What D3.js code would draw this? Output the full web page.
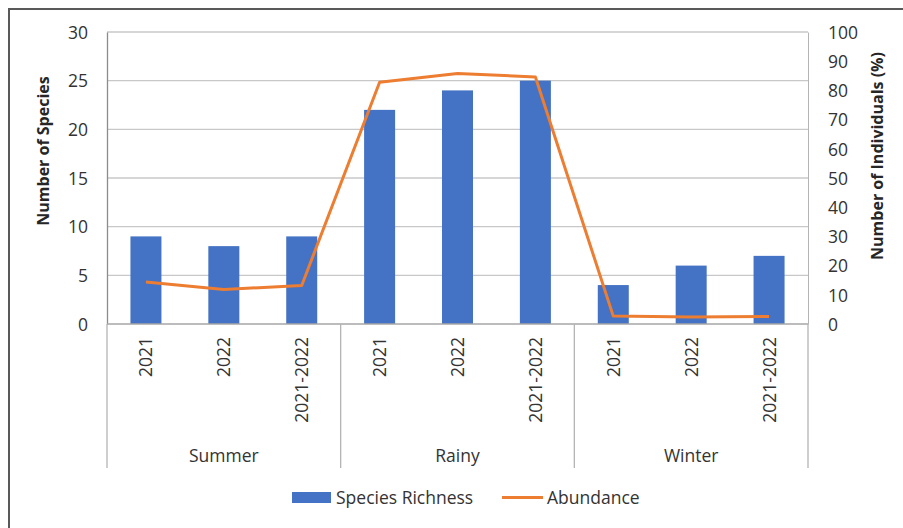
<!DOCTYPE html>
<html><head><meta charset="utf-8">
<script src="https://cdn.jsdelivr.net/npm/d3@7"></script>
<style>body{margin:0;background:#fff}svg{display:block}</style>
</head><body>
<script>
const seasons = ["Summer", "Rainy", "Winter"];
const periods = ["2021", "2022", "2021-2022"];
const speciesRichness = [9, 8, 9, 22, 24, 25, 4, 6, 7];
const abundance = [14.4, 11.8, 13.2, 82.8, 85.8, 84.6, 2.7, 2.4, 2.6];
const leftTicks = [0, 5, 10, 15, 20, 25, 30];
const rightTicks = [0, 10, 20, 30, 40, 50, 60, 70, 80, 90, 100];

const W = 903, H = 528;
const m = {l: 107, r: 808, t: 32, b: 324};
const font = "'Open Sans', 'Noto Sans', sans-serif";
const txt = "#333";

const cats = [];
seasons.forEach(s => periods.forEach(p => cats.push(s + "|" + p)));

const svg = d3.select("body").append("svg").attr("width", W).attr("height", H)
  .style("font-family", font);

svg.append("rect").attr("x", 9).attr("y", 9).attr("width", W + 10).attr("height", H + 10)
  .attr("fill", "#fff").attr("stroke", "#595959").attr("stroke-width", 2);

const x = d3.scaleBand().domain(cats).range([m.l, m.r]).paddingInner(0.6).paddingOuter(0.3);
const xc = d3.scalePoint().domain(cats).range([m.l, m.r]).padding(0.5);
const yL = d3.scaleLinear().domain([0, 30]).range([m.b, m.t]);
const yR = d3.scaleLinear().domain([0, 100]).range([m.b, m.t]);

// gridlines
svg.append("g").selectAll("line").data(leftTicks.filter(d => d > 0)).join("line")
  .attr("x1", m.l).attr("x2", m.r).attr("y1", d => yL(d)).attr("y2", d => yL(d))
  .attr("stroke", "#c8c8c8").attr("stroke-width", 1.3);

// left axis
const gl = svg.append("g").attr("transform", `translate(${m.l},0)`)
  .call(d3.axisLeft(yL).tickValues(leftTicks).tickSize(0).tickPadding(19));
gl.select(".domain").attr("stroke", "#8c8c8c").attr("stroke-width", 1.3);
gl.selectAll("text").attr("fill", txt).style("font-size", "17.5px").style("font-family", font).attr("dy", "0.36em");

// right axis
const gr = svg.append("g").attr("transform", `translate(${m.r},0)`)
  .call(d3.axisRight(yR).tickValues(rightTicks).tickSize(0).tickPadding(20));
gr.select(".domain").attr("stroke", "#b4b4b4").attr("stroke-width", 1);
gr.selectAll("text").attr("fill", txt).style("font-size", "17.5px").style("font-family", font).attr("dy", "0.36em");

// bars
svg.append("g").selectAll("rect").data(speciesRichness).join("rect")
  .attr("x", (d, i) => xc(cats[i]) - 15.5).attr("width", 31)
  .attr("y", d => yL(d)).attr("height", d => yL(0) - yL(d))
  .attr("fill", "#4472C4");

// x axis baseline
svg.append("line").attr("x1", m.l).attr("x2", m.r).attr("y1", m.b).attr("y2", m.b)
  .attr("stroke", "#a6a6a6").attr("stroke-width", 1.3);

// group dividers
const groupEdges = [0, 3, 6, 9].map(i => i < 9 ? xc(cats[i]) - xc.step() / 2 : xc(cats[8]) + xc.step() / 2);
svg.append("g").selectAll("line").data(groupEdges).join("line")
  .attr("x1", d => d).attr("x2", d => d).attr("y1", m.b).attr("y2", 468)
  .attr("stroke", "#b4b4b4").attr("stroke-width", 1.3);

// tick labels (rotated)
svg.append("g").selectAll("text").data(cats).join("text")
  .attr("transform", d => `translate(${xc(d) + 6.5},337) rotate(-90)`)
  .attr("text-anchor", "end").attr("fill", txt).style("font-size", "17.5px")
  .text(d => d.split("|")[1]);

// group labels
svg.append("g").selectAll("text").data(seasons).join("text")
  .attr("x", (s, i) => (groupEdges[i] + groupEdges[i + 1]) / 2).attr("y", 462)
  .attr("text-anchor", "middle").attr("fill", txt).style("font-size", "17.5px")
  .text(d => d);

// line
const line = d3.line().x((d, i) => xc(cats[i])).y(d => yR(d));
svg.append("path").datum(abundance).attr("d", line)
  .attr("fill", "none").attr("stroke", "#ED7D31").attr("stroke-width", 3).attr("stroke-linejoin", "round");

// axis titles
svg.append("text").attr("transform", "translate(49,151) rotate(-90)")
  .attr("text-anchor", "middle").attr("fill", "#262626").style("font-size", "16px").style("font-weight", "bold")
  .text("Number of Species");
svg.append("text").attr("transform", "translate(883,156) rotate(-90)")
  .attr("text-anchor", "middle").attr("fill", "#262626").style("font-size", "16px").style("font-weight", "bold")
  .text("Number of Individuals (%)");

// legend
const lg = svg.append("g");
lg.append("rect").attr("x", 292).attr("y", 492).attr("width", 39).attr("height", 11).attr("fill", "#4472C4");
lg.append("text").attr("x", 336).attr("y", 504).attr("fill", txt).style("font-size", "17.5px").text("Species Richness");
lg.append("line").attr("x1", 502).attr("x2", 543).attr("y1", 497.5).attr("y2", 497.5)
  .attr("stroke", "#ED7D31").attr("stroke-width", 3);
lg.append("text").attr("x", 547).attr("y", 504).attr("fill", txt).style("font-size", "17.5px").text("Abundance");
</script>
</body></html>
